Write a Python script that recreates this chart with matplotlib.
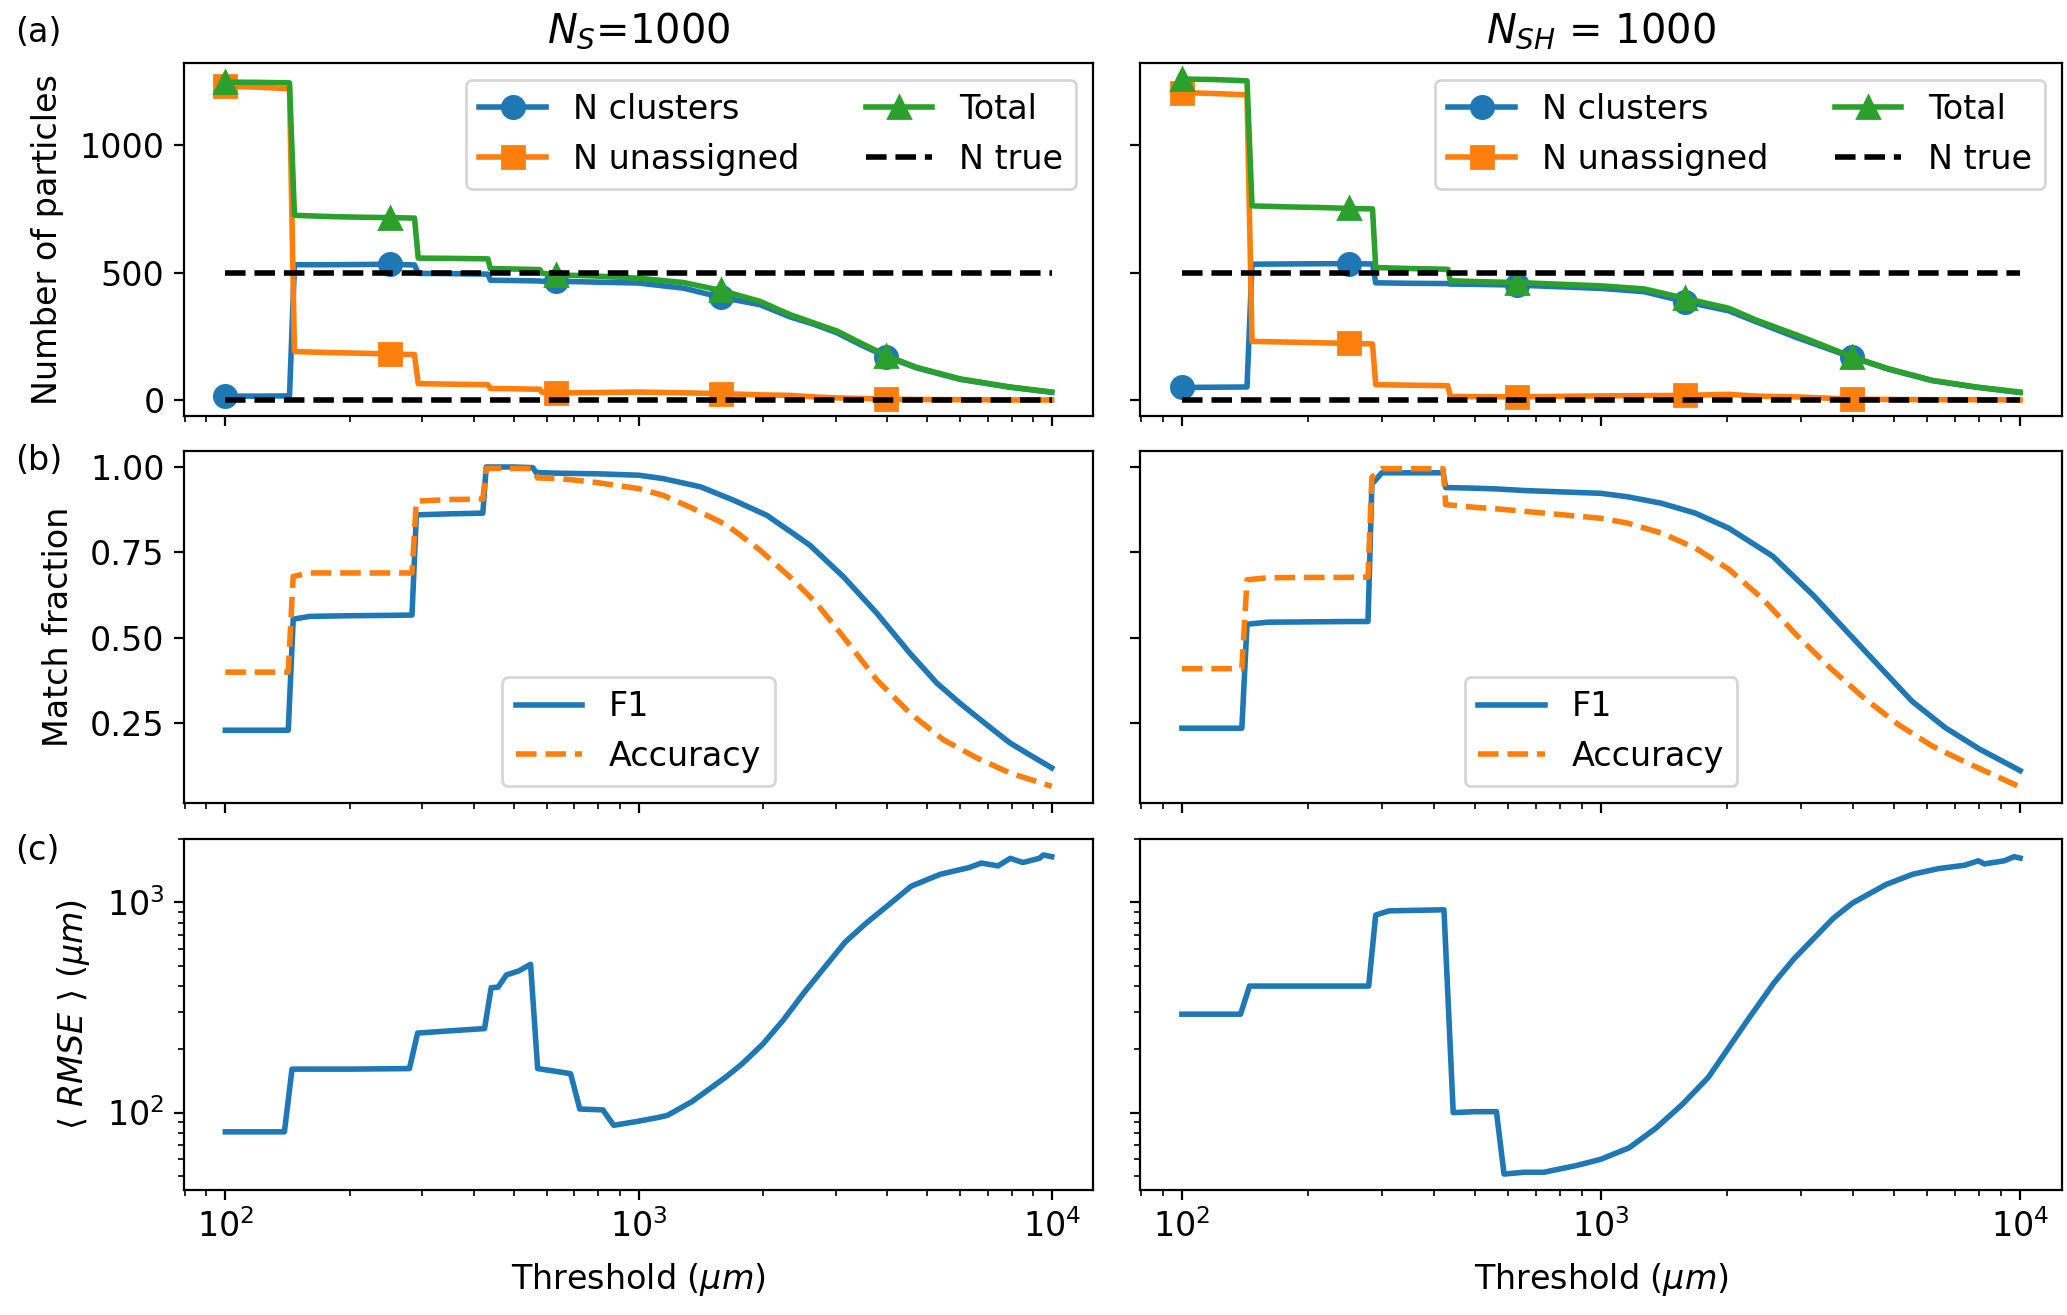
import matplotlib
matplotlib.use("Agg")
import matplotlib.pyplot as plt
import numpy as np

plt.rcParams['font.size'] = 12

# ---- data ----
mark_x = [100, 251, 631, 1585, 3981]

# panel (a), left column
xa_l = [100, 120, 143, 147, 180, 220, 251, 287, 293, 350, 432, 438, 500, 577, 583,
        631, 776, 1000, 1285, 1585, 1968, 2328, 2649, 3020, 3436, 3981, 4710, 5998, 7925, 10000]
clus_l = [15, 15, 16, 531, 531, 532, 533, 530, 497, 496, 494, 470, 469, 467, 466,
          466, 463, 459, 439, 403, 374, 326, 298, 264, 218, 170, 126, 81, 50, 30]
unas_l = [1232, 1228, 1222, 190, 186, 183, 180, 178, 64, 62, 60, 45, 44, 42, 31,
          27, 29, 31, 28, 25, 20, 18, 12, 8, 6, 3, 2, 1, 0, 0]
total_l = [1248, 1247, 1245, 725, 720, 717, 716, 714, 557, 556, 554, 516, 514, 512, 498,
           491, 487, 478, 461, 430, 387, 335, 303, 271, 225, 174, 128, 83, 51, 31]

# panel (a), right column
xa_r = [100, 120, 143, 147, 180, 220, 251, 285, 290, 350, 431, 437, 500, 631, 1000,
        1268, 1585, 2018, 2344, 2931, 3981, 4842, 6166, 7852, 10000]
clus_r = [49, 50, 51, 533, 534, 535, 535, 534, 460, 458, 457, 455, 454, 451, 438,
          425, 386, 350, 307, 245, 167, 121, 76, 50, 29]
unas_r = [1207, 1203, 1198, 230, 227, 224, 222, 220, 60, 58, 56, 14, 13, 12, 16,
          17, 18, 22, 15, 12, 3, 2, 1, 1, 0]
total_r = [1260, 1258, 1253, 762, 758, 755, 752, 750, 520, 516, 513, 468, 465, 461, 448,
           436, 399, 360, 314, 255, 169, 123, 77, 51, 31]

n_true = [500, 0]

# panel (b), left column
xf1_l = [100, 120, 142, 146, 160, 200, 250, 283, 290, 350, 420, 428, 500, 555, 565,
         631, 800, 1000, 1148, 1413, 1698, 2042, 2371, 2600, 3133, 3776, 4539, 5272,
         5998, 6966, 7925, 8710, 10000]
f1_l = [0.23, 0.23, 0.23, 0.555, 0.563, 0.565, 0.566, 0.567, 0.86, 0.863, 0.865, 1.0, 1.0,
        0.998, 0.984, 0.982, 0.98, 0.976, 0.966, 0.942, 0.903, 0.859, 0.805, 0.771, 0.679,
        0.572, 0.455, 0.368, 0.309, 0.246, 0.193, 0.163, 0.12]
xacc_l = [100, 120, 142, 146, 160, 200, 250, 283, 290, 350, 420, 428, 500, 555, 570,
          646, 776, 1000, 1148, 1358, 1637, 1968, 2371, 2698, 3133, 3776, 4539, 5470,
          6592, 7925, 10000]
acc_l = [0.40, 0.40, 0.40, 0.68, 0.69, 0.69, 0.69, 0.69, 0.90, 0.905, 0.906, 0.996, 0.996,
         0.995, 0.968, 0.966, 0.956, 0.937, 0.917, 0.878, 0.83, 0.757, 0.669, 0.601, 0.503,
         0.377, 0.28, 0.202, 0.149, 0.105, 0.066]

# panel (b), right column
xf1_r = [100, 120, 139, 143, 160, 200, 250, 278, 284, 300, 350, 420, 426, 500, 560,
         661, 1000, 1156, 1393, 1679, 2018, 2570, 3214, 3873, 4581, 5521, 6637, 8000, 10000]
f1_r = [0.236, 0.236, 0.236, 0.54, 0.546, 0.547, 0.548, 0.548, 0.95, 0.983, 0.983, 0.983,
        0.94, 0.938, 0.936, 0.931, 0.923, 0.913, 0.894, 0.865, 0.821, 0.739, 0.624, 0.517,
        0.421, 0.315, 0.237, 0.175, 0.112]
xacc_r = [100, 120, 139, 143, 160, 200, 250, 278, 284, 300, 350, 420, 426, 500, 560,
          661, 1000, 1156, 1393, 1679, 2018, 2432, 2931, 3532, 4246, 5117, 6166, 7430, 10000]
acc_r = [0.41, 0.41, 0.41, 0.67, 0.676, 0.677, 0.677, 0.678, 0.97, 0.995, 0.995, 0.995,
         0.89, 0.882, 0.878, 0.87, 0.85, 0.836, 0.807, 0.763, 0.701, 0.614, 0.508, 0.411,
         0.324, 0.247, 0.184, 0.136, 0.064]

# panel (c)
xc_l = [100, 139, 145, 200, 279, 292, 350, 424, 440, 457, 479, 513, 548, 570, 661, 685,
        721, 820, 871, 1000, 1122, 1175, 1349, 1622, 1778, 2000, 2239, 2512, 2818, 3162,
        3548, 3981, 4571, 5370, 6310, 6761, 7413, 7943, 8511, 9333, 9550, 10000]
rmse_l = [81, 81, 161, 161, 162, 239, 245, 251, 393, 395, 452, 472, 508, 162, 155, 153,
          104, 103, 87, 91, 95, 97, 113, 147, 170, 212, 275, 371, 490, 647,
          794, 955, 1195, 1361, 1466, 1540, 1493, 1622, 1549, 1622, 1683, 1652]

xc_r = [100, 138, 145, 200, 279, 290, 312, 422, 444, 500, 563, 587, 655, 730, 874, 1000,
        1167, 1349, 1560, 1803, 2239, 2588, 2884, 3581, 3981, 4786, 5534, 6383, 7379, 7943,
        8222, 9162, 9683, 10000]
rmse_r = [294, 294, 400, 400, 400, 871, 912, 923, 100, 101, 101, 51, 52, 52, 56, 60,
          68, 84, 109, 147, 276, 415, 538, 840, 993, 1217, 1361, 1449, 1504, 1578,
          1526, 1578, 1652, 1626]

titles = [r'$N_S$=1000', r'$N_{SH}$ = 1000']

# ---- figure ----
W, H = 2067, 1315
fig = plt.figure(figsize=(W / 200, H / 200), dpi=200)

cols_x = [(184, 909), (1140, 922)]
rows_y = [(63, 416), (451, 803), (839, 1190)]

axes = [[None, None] for _ in range(3)]
for r, (yt, yb) in enumerate(rows_y):
    for c, (xl, w) in enumerate(cols_x):
        rect = [xl / W, 1 - yb / H, w / W, (yb - yt) / H]
        kw = {}
        if r > 0:
            kw['sharex'] = axes[0][0]
        if c == 1:
            kw['sharey'] = axes[r][0]
        axes[r][c] = fig.add_axes(rect, **kw)

data_a = [(xa_l, clus_l, unas_l, total_l), (xa_r, clus_r, unas_r, total_r)]
data_b = [(xf1_l, f1_l, xacc_l, acc_l), (xf1_r, f1_r, xacc_r, acc_r)]
data_c = [(xc_l, rmse_l), (xc_r, rmse_r)]

for c in range(2):
    ax = axes[0][c]
    x, cl, un, tot = data_a[c]
    idx = [x.index(m) for m in mark_x]
    ax.plot(x, cl, '-o', color='tab:blue', lw=2, ms=8, markevery=idx, label='N clusters')
    ax.plot(x, un, '-s', color='tab:orange', lw=2, ms=8, markevery=idx, label='N unassigned')
    ax.plot(x, tot, '-^', color='tab:green', lw=2, ms=8, markevery=idx, label='Total')
    ax.plot([x[0], x[-1]], [n_true[0]] * 2, 'k--', lw=2, label='N true')
    ax.plot([x[0], x[-1]], [n_true[1]] * 2, 'k--', lw=2)
    ax.set_xscale('log')
    ax.legend(loc='upper right', ncol=2)
    ax.set_title(titles[c], pad=7.5)

    ax = axes[1][c]
    xf, f1, xa, acc = data_b[c]
    ax.plot(xf, f1, '-', color='tab:blue', lw=2, label='F1')
    ax.plot(xa, acc, '--', color='tab:orange', lw=2, label='Accuracy')
    ax.legend(loc='lower center')

    ax = axes[2][c]
    x, rm = data_c[c]
    ax.plot(x, rm, '-', color='tab:blue', lw=2)
    ax.set_yscale('log')
    ax.set_xlabel(r'Threshold ($\mu m$)', labelpad=6)

for r in range(3):
    axes[r][1].tick_params(labelleft=False)
for r in range(2):
    for c in range(2):
        axes[r][c].tick_params(labelbottom=False)

axes[0][0].set_yticks([0, 500, 1000])
axes[1][0].set_yticks([0.25, 0.5, 0.75, 1.0])
axes[0][0].set_ylabel('Number of particles', labelpad=5.5)
axes[1][0].set_ylabel('Match fraction', labelpad=5.5)
axes[2][0].set_ylabel(r'$\langle$ $RMSE$ $\rangle$ $(\mu m)$', labelpad=5.5)

for lab, yp in [('(a)', 32), ('(b)', 460), ('(c)', 850)]:
    fig.text(15 / W, 1 - yp / H, lab, ha='left', va='center')

fig.savefig('out.png', dpi=200)
